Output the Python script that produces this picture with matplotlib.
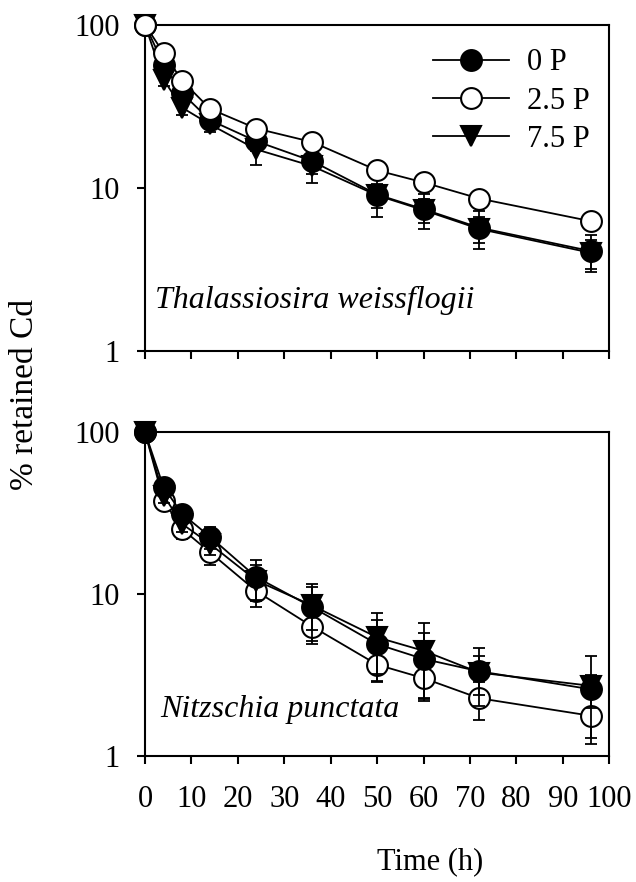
import matplotlib
matplotlib.use("Agg")
import matplotlib.pyplot as plt
import numpy as np

plt.rcParams['font.family'] = ['Liberation Serif', 'DejaVu Serif']

# sampling times (h)
time_h = [0, 4, 8, 14, 24, 36, 50, 60, 72, 96]

# Thalassiosira weissflogii (% retained Cd)
tw_0p = [100, 57, 38, 26, 19.3, 14.6, 9.1, 7.4, 5.7, 4.1]
tw_0p_err = [0, 5, 4, 3, 2.5, 2.5, 2.5, 1.8, 1.5, 1.04]
tw_25p = [100, 67, 45.4, 30.5, 23.1, 19.1, 12.8, 10.8, 8.6, 6.25]
tw_25p_err = [0, 4, 3, 2, 2, 1.5, 1.2, 1.0, 0.8, 0.6]
tw_75p = [100, 46, 31, 24.5, 17.2, 13.6, 9.0, 7.3, 5.6, 4.0]
tw_75p_err = [0, 4, 3, 2.5, 3.3, 2.9, 1.5, 1.2, 1.0, 0.8]

# Nitzschia punctata (% retained Cd)
np_0p = [100, 45.7, 31.3, 22.6, 12.7, 8.3, 4.9, 3.97, 3.33, 2.58]
np_0p_err = [0, 4, 3, 3.5, 3.5, 3.2, 2.0, 1.8, 1.3, 0.6]
np_25p = [100, 37.8, 25.2, 18.1, 10.4, 6.3, 3.66, 3.02, 2.27, 1.77]
np_25p_err = [0, 3, 3.3, 3, 2.1, 1.4, 0.8, 0.75, 0.6, 0.58]
np_75p = [100, 40.6, 27.1, 20.4, 12.1, 8.5, 5.4, 4.46, 3.27, 2.71]
np_75p_err = [0, 4, 3, 3, 3, 2.5, 2.2, 2.2, 0.9, 1.42]

labels = ['0 P', '2.5 P', '7.5 P']
species = ['Thalassiosira weissflogii', 'Nitzschia punctata']

styles = {
    '0 P': dict(marker='o', mfc='black', mec='black'),
    '2.5 P': dict(marker='o', mfc='white', mec='black'),
    '7.5 P': dict(marker='v', mfc='black', mec='black'),
}

fig = plt.figure(figsize=(6.36, 8.82), dpi=100)
ax1 = fig.add_axes([0.228, 0.602, 0.730, 0.370])
ax2 = fig.add_axes([0.228, 0.143, 0.730, 0.367])

panels = [
    (ax1, {'0 P': (tw_0p, tw_0p_err), '2.5 P': (tw_25p, tw_25p_err), '7.5 P': (tw_75p, tw_75p_err)},
     ['7.5 P', '0 P', '2.5 P']),
    (ax2, {'0 P': (np_0p, np_0p_err), '2.5 P': (np_25p, np_25p_err), '7.5 P': (np_75p, np_75p_err)},
     ['2.5 P', '7.5 P', '0 P']),
]

handles = {}
for ax, series, order in panels:
    for z, key in enumerate(order):
        vals, err = series[key]
        ax.errorbar(time_h, vals, yerr=err, fmt='none', ecolor='black',
                    elinewidth=1.3, capsize=4.5, capthick=1.3, zorder=2 + z)
        ln, = ax.plot(time_h, vals, color='black', lw=1.3, ms=15, mew=1.5,
                      zorder=2 + z, clip_on=False, **styles[key])
        handles[key] = ln
    ax.set_yscale('log')
    ax.set_ylim(1, 100)
    ax.set_xlim(0, 100)
    ax.set_xticks(np.arange(0, 101, 10))
    ax.set_yticks([1, 10, 100])
    ax.set_yticklabels(['1', '10', '100'])
    ax.yaxis.set_minor_locator(matplotlib.ticker.NullLocator())
    ax.tick_params(direction='out', length=6, width=1.5, labelsize=22, pad=12)
    ax.tick_params(axis='x', pad=15)
    for sp in ax.spines.values():
        sp.set_linewidth(1.5)

ax1.tick_params(axis='x', labelbottom=False)

ax1.text(0.022, 0.156, species[0], transform=ax1.transAxes, style='italic',
         fontsize=23, va='center', ha='left')
ax2.text(0.032, 0.142, species[1], transform=ax2.transAxes, style='italic',
         fontsize=23, va='center', ha='left')

ax1.legend([handles[k] for k in labels], labels, loc='upper right',
           bbox_to_anchor=(0.985, 0.965), frameon=False, fontsize=22,
           handlelength=2.5, handletextpad=0.6, labelspacing=0.3,
           numpoints=1, borderaxespad=0)

fig.text(430 / 636, 1 - 862 / 882, 'Time (h)', fontsize=22, ha='center', va='center')
fig.text(25 / 636, 1 - 395 / 882, '% retained Cd', fontsize=24, ha='center',
         va='center', rotation=90)

fig.savefig('out.png', dpi=100)
